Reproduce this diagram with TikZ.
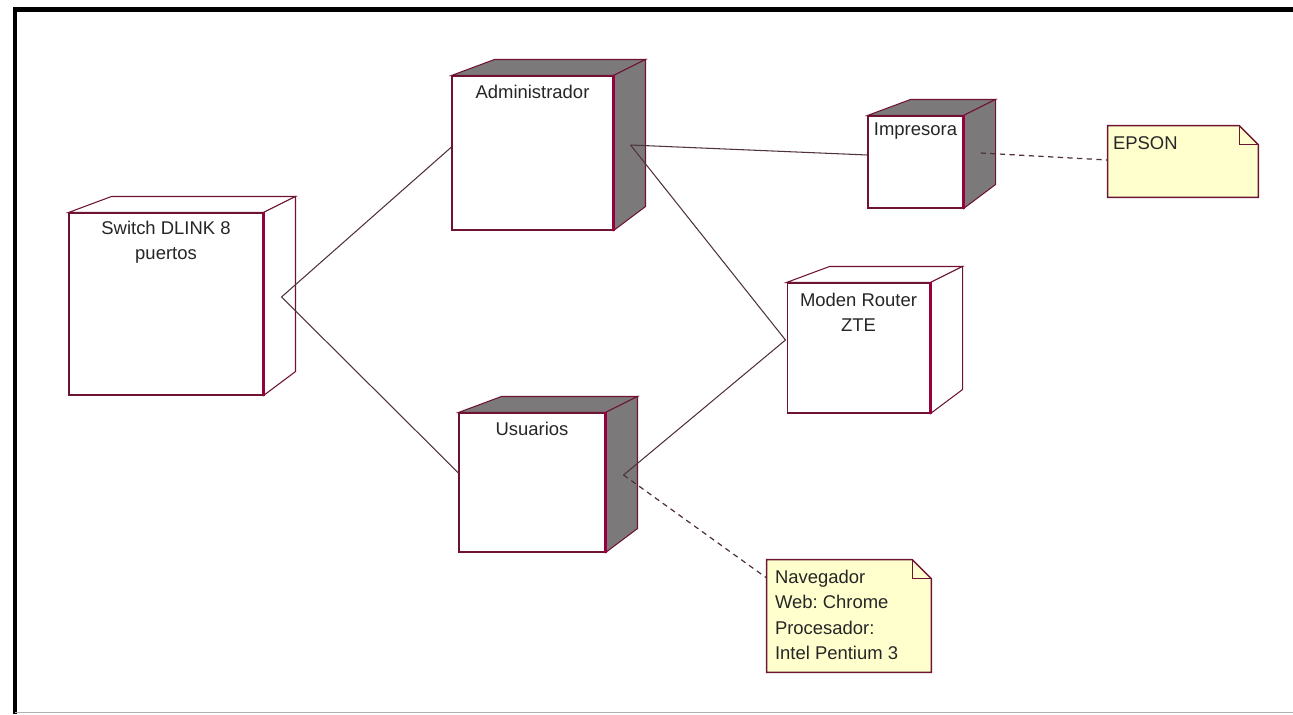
\documentclass[tikz,border=0pt]{standalone}
\usepackage{fontspec}
\setmainfont{Liberation Sans}
\usetikzlibrary{positioning}
\frenchspacing

\definecolor{borde}{RGB}{110,20,50}
\definecolor{arista}{RGB}{150,0,60}
\definecolor{lado}{RGB}{124,121,123}
\definecolor{notafondo}{RGB}{255,255,206}
\definecolor{enlace}{RGB}{80,50,60}

% caras superior y lateral de un nodo
\newcommand{\cubo}[2]{%
    \filldraw[fill=#2, draw=borde, line width=0.6pt] (#1.north west) -- ++(43,-16) -- ([shift={(32,-16)}]#1.north east) -- (#1.north east) -- cycle;
    \filldraw[fill=#2, draw=borde, line width=0.6pt] (#1.north east) -- ++(32,-16) -- ([shift={(32,-24)}]#1.south east) -- (#1.south east) -- cycle;
    \draw[arista, line width=1.5pt] (#1.north east) -- (#1.south east);
}
% nota con esquina doblada
\newcommand{\nota}[1]{%
    \filldraw[fill=notafondo, draw=borde, line width=0.8pt] (#1.north west) -- ([shift={(-19,0)}]#1.north east) -- ([shift={(0,19)}]#1.north east) -- (#1.south east) -- (#1.south west) -- cycle;
    \draw[borde, line width=0.6pt] ([shift={(-19,0)}]#1.north east) -- ++(0,19) -- ([shift={(0,19)}]#1.north east);
}

\begin{document}
\begin{tikzpicture}[x=0.02cm, y=-0.02cm, every node/.style={font=\fontsize{10.5}{14.5}\selectfont}]
    \tikzstyle{cara}=[draw=borde, fill=white, line width=0.6pt, inner sep=0pt]
    \tikzstyle{hoja}=[inner sep=0pt]
    \tikzstyle{rotulo}=[inner sep=0pt, align=center, text=black!85]
    \tikzstyle{texto}=[inner sep=0pt, align=left, text=black!85]
    \tikzstyle{linea}=[draw=enlace, line width=0.6pt]
    \tikzstyle{traza}=[draw=enlace, line width=0.7pt, dash pattern=on 3pt off 2.5pt]

    \useasboundingbox (0,0) rectangle (1293,714);
    \draw[line width=2.5pt] (15,714) -- (15,9.5) -- (1293,9.5);
    \draw[gray!60, line width=1pt] (15,712.5) -- (1293,712.5);

    \node[cara, minimum width=3.88cm, minimum height=3.64cm] (sw) at (166,304) {};
    \cubo{sw}{white}
    \node[rotulo, below=0.16cm of sw.north] (swT) {Switch DLINK 8\\puertos};

    \node[cara, minimum width=3.22cm, minimum height=3.08cm] (admin) at (532.5,153) {};
    \cubo{admin}{lado}
    \node[rotulo, below=0.18cm of admin.north] (adminT) {Administrador};

    \node[cara, minimum width=1.9cm, minimum height=1.84cm] (impr) at (915.5,162) {};
    \cubo{impr}{lado}
    \node[rotulo, below=0.14cm of impr.north] (imprT) {Impresora};

    \node[cara, minimum width=2.86cm, minimum height=2.6cm] (router) at (858.5,348) {};
    \cubo{router}{white}
    \node[rotulo, below=0.2cm of router.north] (routerT) {Moden Router\\ZTE};

    \node[cara, minimum width=2.92cm, minimum height=2.78cm] (usu) at (532,482.5) {};
    \cubo{usu}{lado}
    \node[rotulo, below=0.18cm of usu.north] (usuT) {Usuarios};

    \node[hoja, minimum width=3.0cm, minimum height=1.42cm] (epson) at (1183,161.5) {};
    \nota{epson}
    \node[texto, below right=0.22cm and 0.1cm of epson.north west] (epsonT) {EPSON};

    \node[hoja, minimum width=3.28cm, minimum height=2.24cm] (nav) at (849,616) {};
    \nota{nav}
    \node[texto, below right=0.2cm and 0.16cm of nav.north west] (navT) {Navegador\\Web: Chrome\\Procesador:\\Intel Pentium 3};

    \coordinate (swP) at ([shift={(18,-7)}]sw.east);
    \coordinate (adminW) at ([shift={(0,-6)}]admin.west);
    \coordinate (adminP) at ([shift={(17,-8)}]admin.east);
    \coordinate (imprW) at ([shift={(0,-7)}]impr.west);
    \coordinate (imprP) at ([shift={(17,-9)}]impr.east);
    \coordinate (routerW) at ([shift={(-1,-8)}]router.west);
    \coordinate (usuW) at ([shift={(0,-9.5)}]usu.west);
    \coordinate (usuP) at ([shift={(18,-7.5)}]usu.east);
    \coordinate (epsonW) at ([shift={(0,-1.5)}]epson.west);
    \coordinate (navW) at ([shift={(0,-38)}]nav.west);

    \draw[linea] (adminW) -- (swP) -- (usuW);
    \draw[linea] (adminP) -- (imprW);
    \draw[linea] (adminP) -- (routerW);
    \draw[linea] (usuP) -- (routerW);
    \draw[traza] (imprP) -- (epsonW);
    \draw[traza] (usuP) -- (navW);
\end{tikzpicture}
\end{document}
